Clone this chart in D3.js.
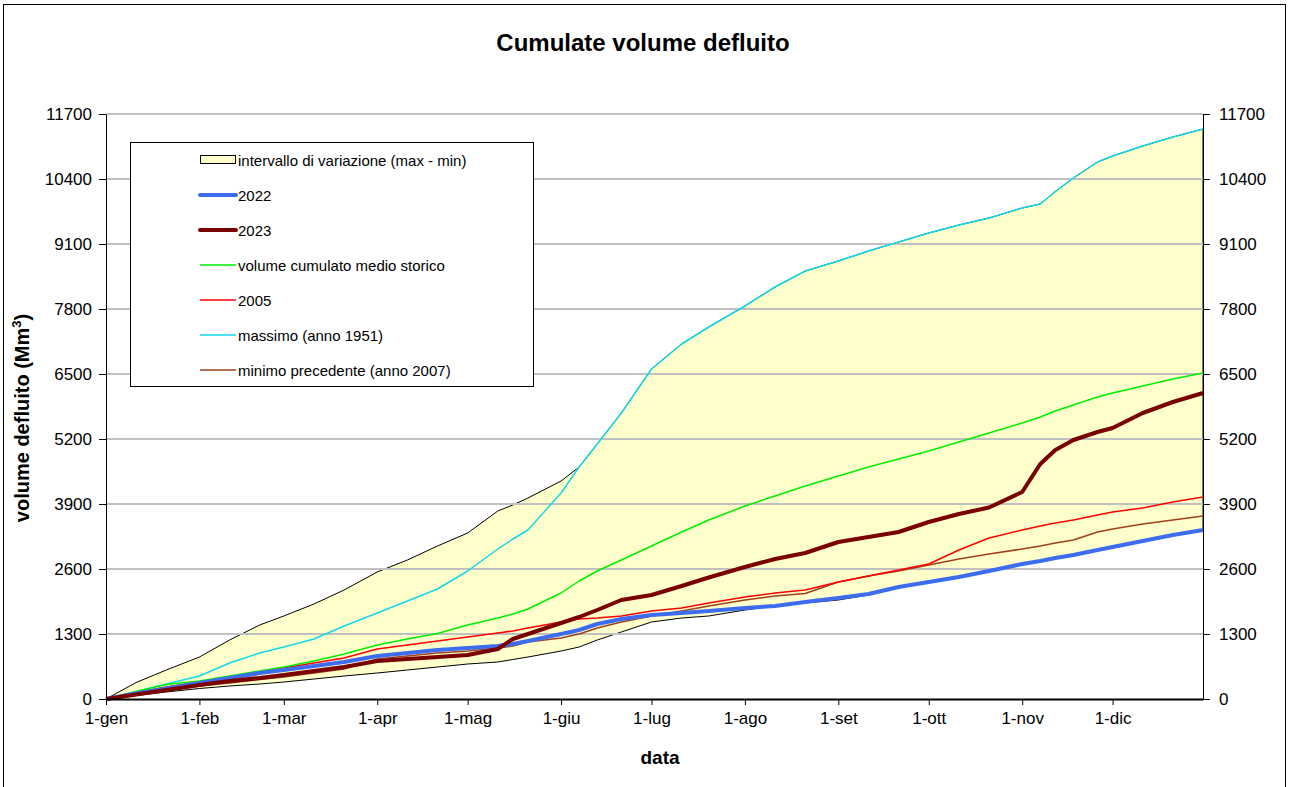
<!DOCTYPE html>
<html>
<head>
<meta charset="utf-8">
<script src="https://cdn.jsdelivr.net/npm/d3@7/dist/d3.min.js"></script>
<style>
  body { margin: 0; background: #fff; }
  text { font-family: "Liberation Sans", Arial, sans-serif; }
</style>
</head>
<body>
<script>
// giorni dell'anno (0 = 1-gen)
var days = [0,10,20,31,41,51,59,69,79,90,100,110,120,130,135,140,151,157,163,171,181,191,200,212,222,232,243,253,263,273,283,293,304,310,315,321,329,334,344,354,364];

// intervallo di variazione
var envMax = [0,330,580,840,1180,1480,1660,1900,2180,2540,2780,3060,3320,3760,3880,4020,4360,4640,5100,5720,6600,7100,7440,7860,8240,8560,8760,8960,9140,9320,9480,9620,9820,9900,10150,10420,10740,10860,11060,11240,11400];
var envMin = [0,70,140,210,260,300,340,400,460,520,580,640,700,740,790,840,960,1040,1180,1340,1540,1620,1660,1780,1860,1920,1980,2080,2240,2340,2440,2560,2700,2760,2820,2880,2980,3040,3160,3280,3380];

var y2022 = [0,110,210,320,420,520,580,660,740,860,920,980,1020,1060,1100,1160,1300,1380,1500,1600,1680,1720,1760,1820,1860,1940,2020,2100,2240,2340,2440,2560,2700,2760,2820,2880,2980,3040,3160,3280,3380];
var y2023 = [0,90,180,280,360,420,480,560,640,760,800,840,880,1000,1200,1300,1520,1640,1780,1980,2080,2260,2430,2640,2800,2920,3140,3240,3340,3540,3700,3830,4140,4700,4980,5180,5340,5420,5720,5940,6120];
var medio = [0,150,290,360,460,560,640,760,900,1080,1200,1310,1480,1620,1700,1800,2120,2360,2560,2780,3060,3340,3580,3860,4060,4260,4460,4640,4800,4960,5140,5320,5520,5640,5760,5880,6040,6120,6260,6400,6520];
var y2005 = [0,130,240,340,440,540,620,720,820,1000,1080,1160,1240,1320,1360,1420,1540,1600,1620,1660,1760,1820,1920,2040,2120,2180,2340,2460,2580,2700,2980,3220,3380,3460,3520,3580,3680,3740,3820,3940,4040];
var y1951 = [0,150,300,460,720,920,1040,1200,1460,1720,1960,2200,2560,3000,3200,3380,4120,4640,5100,5720,6600,7100,7440,7860,8240,8560,8760,8960,9140,9320,9480,9620,9820,9900,10150,10420,10740,10860,11060,11240,11400];
var y2007 = [0,80,170,260,320,390,440,520,600,800,860,920,960,1020,1060,1140,1220,1300,1420,1540,1660,1760,1860,1980,2060,2110,2340,2460,2560,2680,2800,2900,3000,3060,3120,3180,3340,3400,3500,3580,3660];

var monthDays = [0,31,59,90,120,151,181,212,243,273,304,334];
var monthLabels = ["1-gen","1-feb","1-mar","1-apr","1-mag","1-giu","1-lug","1-ago","1-set","1-ott","1-nov","1-dic"];
var yTicks = [0,1300,2600,3900,5200,6500,7800,9100,10400,11700];

var width = 1289, height = 787;
var pLeft = 106, pRight = 1203, pTop = 114, pBottom = 699;

var svg = d3.select("body").append("svg")
    .attr("width", width)
    .attr("height", height);

svg.append("rect")
    .attr("x", 3.5).attr("y", 4.5)
    .attr("width", 1282).attr("height", 800)
    .style("fill", "#fff").style("stroke", "#000").style("stroke-width", 1);

var x = d3.scaleLinear().domain([0, 364]).range([pLeft, pRight]);
var y = d3.scaleLinear().domain([0, 11700]).range([pBottom, pTop]);

// area max - min
var area = d3.area()
    .x((d, i) => x(days[i]))
    .y0((d, i) => y(envMin[i]))
    .y1((d, i) => y(envMax[i]));

svg.append("path")
    .datum(days)
    .attr("d", area)
    .style("fill", "#ffffcc")
    .style("stroke", "#000")
    .style("stroke-width", 1);

// griglia
svg.append("g").selectAll("line")
    .data(yTicks.slice(1))
    .enter().append("line")
    .attr("x1", pLeft).attr("x2", pRight)
    .attr("y1", d => y(d)).attr("y2", d => y(d))
    .style("stroke", "#c0c0c0").style("stroke-width", 2);

var series = [
    {name: "massimo (anno 1951)", values: y1951, color: "#12d8e8", w: 1.5},
    {name: "minimo precedente (anno 2007)", values: y2007, color: "#a0401a", w: 1.5},
    {name: "2005", values: y2005, color: "#ff0000", w: 1.5},
    {name: "volume cumulato medio storico", values: medio, color: "#00ee00", w: 1.5},
    {name: "2022", values: y2022, color: "#3d6cf0", w: 4},
    {name: "2023", values: y2023, color: "#7a0000", w: 4}
];

var line = d3.line()
    .x(d => x(d[0]))
    .y(d => y(d[1]));

svg.append("g").selectAll("path")
    .data(series)
    .enter().append("path")
    .attr("d", s => line(days.map((d, i) => [d, s.values[i]])))
    .style("fill", "none")
    .style("stroke", s => s.color)
    .style("stroke-width", s => s.w)
    .style("stroke-linejoin", "round");

// assi
var xAxis = svg.append("g")
    .attr("transform", "translate(0," + pBottom + ")")
    .call(d3.axisBottom(x).tickValues(monthDays).tickFormat((d, i) => monthLabels[i]).tickSize(6).tickSizeOuter(0));
xAxis.select(".domain").style("stroke-width", 2);
xAxis.selectAll("text").style("font-size", "17px").attr("y", 13).attr("dy", "0.71em");

var yLeft = svg.append("g")
    .attr("transform", "translate(" + pLeft + ",0)")
    .call(d3.axisLeft(y).tickValues(yTicks).tickFormat(d3.format("d")).tickSize(7).tickSizeOuter(0));
yLeft.selectAll("text").style("font-size", "17px").attr("x", -14);

var yRight = svg.append("g")
    .attr("transform", "translate(" + pRight + ",0)")
    .call(d3.axisRight(y).tickValues(yTicks).tickFormat(d3.format("d")).tickSize(7).tickSizeOuter(0));
yRight.selectAll("text").style("font-size", "17px").attr("x", 16);

svg.selectAll(".domain, .tick line").style("stroke", "#000");

// titoli
svg.append("text")
    .attr("x", 643).attr("y", 51)
    .attr("text-anchor", "middle")
    .style("font-size", "24px").style("font-weight", "bold")
    .text("Cumulate volume defluito");

svg.append("text")
    .attr("x", 660).attr("y", 764)
    .attr("text-anchor", "middle")
    .style("font-size", "19px").style("font-weight", "bold")
    .text("data");

var yt = svg.append("text")
    .attr("transform", "translate(29,418) rotate(-90)")
    .attr("text-anchor", "middle")
    .style("font-size", "20px").style("font-weight", "bold");
yt.append("tspan").text("volume defluito (Mm");
yt.append("tspan").attr("dy", -8).style("font-size", "13px").text("3");
yt.append("tspan").attr("dy", 8).text(")");

// legenda
var legend = svg.append("g");
legend.append("rect")
    .attr("x", 130.5).attr("y", 142.5)
    .attr("width", 403).attr("height", 244)
    .style("fill", "#fff").style("stroke", "#000");

var legendItems = [
    {name: "intervallo di variazione (max - min)", box: true},
    {name: "2022", color: "#3d6cf0", w: 4},
    {name: "2023", color: "#7a0000", w: 4},
    {name: "volume cumulato medio storico", color: "#00ee00", w: 1.5},
    {name: "2005", color: "#ff0000", w: 1.5},
    {name: "massimo (anno 1951)", color: "#12d8e8", w: 1.5},
    {name: "minimo precedente (anno 2007)", color: "#a0401a", w: 1.5}
];

var li = legend.selectAll("g.item")
    .data(legendItems)
    .enter().append("g")
    .attr("class", "item")
    .attr("transform", (d, i) => "translate(0," + (160 + i * 35) + ")");

li.each(function(d) {
    var g = d3.select(this);
    if (d.box) {
        g.append("rect")
            .attr("x", 200.5).attr("y", -4.5)
            .attr("width", 35).attr("height", 8)
            .style("fill", "#ffffcc").style("stroke", "#000");
    } else {
        g.append("line")
            .attr("x1", 200).attr("x2", 236)
            .style("stroke", d.color).style("stroke-width", d.w)
            .style("stroke-linecap", d.w > 2 ? "round" : "butt");
    }
    g.append("text")
        .attr("x", 238).attr("y", 5.5)
        .style("font-size", "15px")
        .text(d.name);
});
</script>
</body>
</html>
